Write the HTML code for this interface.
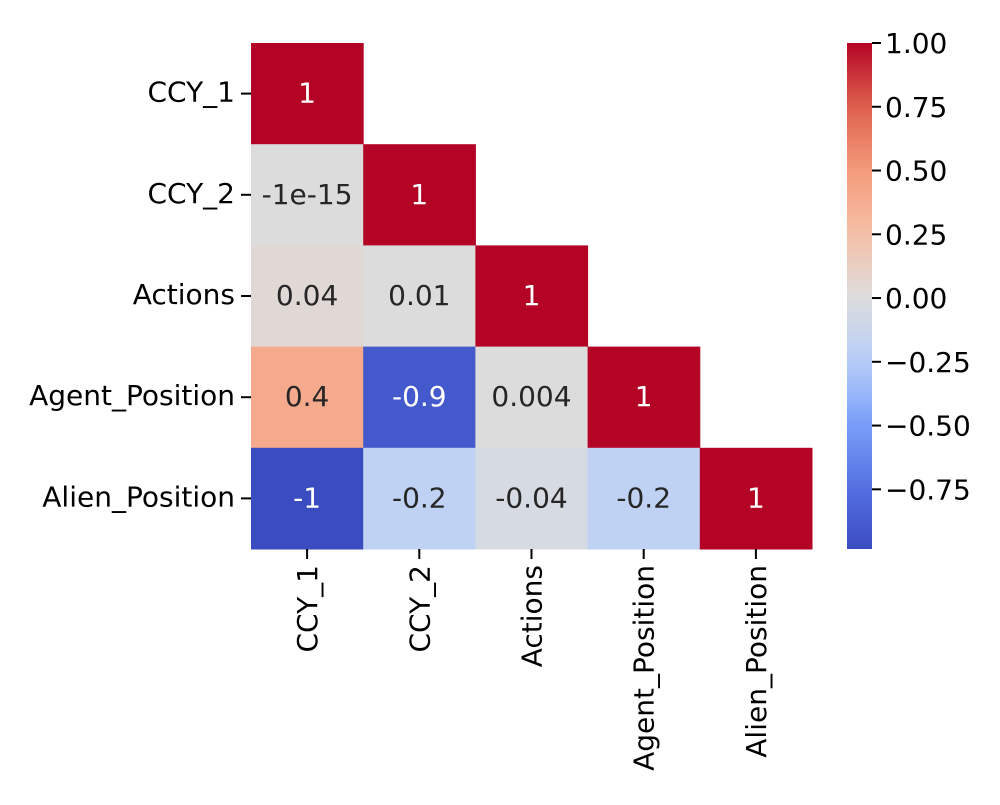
<!DOCTYPE html>
<html><head><meta charset="utf-8"><style>
body{margin:0;background:#fff;}
svg text{font-family:"DejaVu Sans","Liberation Sans",sans-serif;}
</style></head><body>
<svg id="chart" width="1000" height="800" xmlns="http://www.w3.org/2000/svg">
<rect width="1000" height="800" fill="#fff"/>
<defs><linearGradient id="cbgrad" x1="0" y1="1" x2="0" y2="0"></linearGradient></defs>
<g id="cells"></g>
<g id="axes"></g>
<g id="cbar"></g>
</svg>
<script>
const categories = ["CCY_1","CCY_2","Actions","Agent_Position","Alien_Position"];
const row0 = [1];
const row1 = [-1e-15, 1];
const row2 = [0.04, 0.01, 1];
const row3 = [0.4, -0.9, 0.004, 1];
const row4 = [-0.984, -0.2, -0.04, -0.2, 1];
const cbTicks = [1.00, 0.75, 0.50, 0.25, 0.00, -0.25, -0.50, -0.75];
const vmin = -0.984, vmax = 1;
const rows = [row0,row1,row2,row3,row4];

const NS="http://www.w3.org/2000/svg";
const L=251,R=812,T=43,B=549;
const FS=28;
const cw=(R-L)/categories.length, ch=(B-T)/categories.length;
const xPos=i=>L+i*cw, yPos=i=>T+i*ch;
const cbX=847,cbW=25;
const cbY=v=>B-(v-vmin)/(vmax-vmin)*(B-T);
const stops=[[59,76,192],[85,114,227],[123,159,249],[185,208,249],[221,220,220],[246,191,166],[244,154,123],[222,96,77],[180,4,38]];
function color(v){let t=(v-vmin)/(vmax-vmin);t=Math.max(0,Math.min(1,t));const p=t*8,i=Math.min(7,Math.floor(p)),f=p-i;const a=stops[i],b=stops[i+1];return [0,1,2].map(k=>Math.round(a[k]+(b[k]-a[k])*f));}
function fmt(v){if(v!==0&&Math.abs(v)<1e-4){return v.toExponential(0).replace(/e\+?(-?)0*(\d)/,"e$1$2");}return String(Number(v.toPrecision(1)));}
function el(tag,attrs,parent,text){const e=document.createElementNS(NS,tag);for(const k in attrs)e.setAttribute(k,attrs[k]);if(text!==undefined)e.textContent=text;parent.appendChild(e);return e;}
const cells=document.getElementById('cells');
rows.forEach((r,ri)=>r.forEach((v,ci)=>{
 const c=color(v);
 const rc=el('rect',{x:xPos(ci),y:yPos(ri),width:cw+0.5,height:ch+0.5,fill:`rgb(${c})`},cells);
 
 
 const lum=(0.299*c[0]+0.587*c[1]+0.114*c[2])/255;
 const tx=el('text',{x:xPos(ci)+cw/2,y:yPos(ri)+ch/2+9,'text-anchor':'middle','font-size':FS,fill:lum>0.5?'#262626':'#ffffff'},cells,fmt(v));
 
 
}));
const ax=document.getElementById('axes');
categories.forEach((c,i)=>{
 el('line',{x1:L-10,x2:L,y1:yPos(i)+ch/2,y2:yPos(i)+ch/2,stroke:'#000','stroke-width':2},ax);
 const t=el('text',{x:L-16,y:yPos(i)+ch/2+8,'text-anchor':'end','font-size':FS,fill:'#000'},ax,c);
 
 
 const x=xPos(i)+cw/2;
 el('line',{x1:x,x2:x,y1:B,y2:B+10,stroke:'#000','stroke-width':2},ax);
 const t2=el('text',{x:x+10,y:B+16,'text-anchor':'end','font-size':FS,fill:'#000',transform:`rotate(-90 ${x+10} ${B+16})`},ax,c);
 
 
});
const g=document.getElementById('cbgrad');
for(let k=0;k<=20;k++){const v=vmin+(vmax-vmin)*k/20;el('stop',{offset:(k/20),'stop-color':`rgb(${color(v)})`},g);}
const cb=document.getElementById('cbar');
el('rect',{x:cbX,y:T,width:cbW,height:B-T,fill:'url(#cbgrad)'},cb);
cbTicks.forEach(v=>{const y=cbY(v);
 el('line',{x1:cbX+cbW,x2:cbX+cbW+9,y1:y,y2:y,stroke:'#000','stroke-width':2},cb);
 const t=el('text',{x:cbX+cbW+13,y:y+10,'font-size':FS,fill:'#000'},cb,(v<0?'\u2212':'')+Math.abs(v).toFixed(2));
 
 
});
</script>
</body></html>
